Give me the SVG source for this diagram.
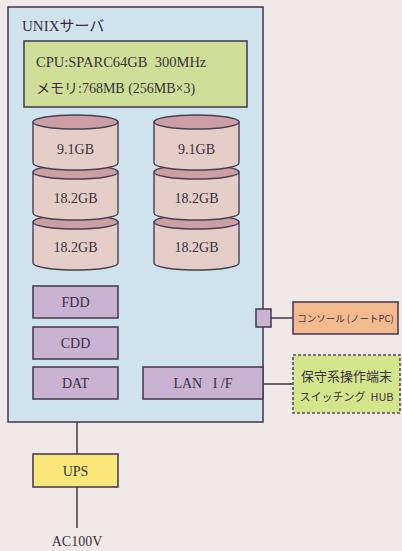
<svg xmlns="http://www.w3.org/2000/svg" width="402" height="551" viewBox="0 0 402 551">
<defs>
<style>
.t{font-family:"Liberation Serif","Noto Sans CJK JP",serif;fill:#3a3040;white-space:pre}
.j{font-family:"Noto Sans CJK JP","Liberation Serif",sans-serif;fill:#3a3040;white-space:pre}
.ln{stroke:#4a3f55;stroke-width:1.6;fill:none}
.box{stroke:#4a3f55;stroke-width:1.6}
.dev{fill:#c9b2d2;stroke:#4a3f55;stroke-width:1.6}
.dbody{fill:#e6cec8;stroke:#4a3f55;stroke-width:1.4}
.dtop{fill:#cb9fa4;stroke:#4a3f55;stroke-width:1.4}
</style>
</defs>
<rect width="402" height="551" fill="#f1e9e7"/>
<g id="connectors">
<line class="ln" x1="271" y1="318" x2="293" y2="318"/>
<line class="ln" x1="263" y1="384" x2="293" y2="384"/>
<line class="ln" x1="77" y1="422" x2="77" y2="454"/>
<line class="ln" x1="77" y1="487" x2="77" y2="528"/>
</g>
<g id="server">
<rect class="box" x="8" y="7" width="255" height="415" fill="#cfe3ef"/>
<text class="t" x="22" y="31" font-size="15">UNIXサーバ</text>
</g>
<g id="cpu">
<rect class="box" x="24" y="41" width="223" height="66" fill="#cfdf98"/>
<text class="t" x="36" y="67" font-size="14.5">CPU:SPARC64GB  300MHz</text>
<text class="t" x="36" y="93" font-size="14">メモリ:768MB (256MB×3)</text>
</g>
<g id="disks-left">
<path class="dbody" d="M33,222 V263 A42.5,7 0 0 0 118,263 V222 Z"/>
<ellipse class="dtop" cx="75.5" cy="222" rx="42.5" ry="7"/>
<path class="dbody" d="M33,172 V213 A42.5,7 0 0 0 118,213 V172 Z"/>
<ellipse class="dtop" cx="75.5" cy="172" rx="42.5" ry="7"/>
<path class="dbody" d="M33,122 V163 A42.5,7 0 0 0 118,163 V122 Z"/>
<ellipse class="dtop" cx="75.5" cy="122" rx="42.5" ry="7"/>
<text class="t" x="75.5" y="154" font-size="14" text-anchor="middle">9.1GB</text>
<text class="t" x="75.5" y="203" font-size="14" text-anchor="middle">18.2GB</text>
<text class="t" x="75.5" y="252" font-size="14" text-anchor="middle">18.2GB</text>
</g>
<g id="disks-right">
<path class="dbody" d="M154,222 V263 A42.5,7 0 0 0 239,263 V222 Z"/>
<ellipse class="dtop" cx="196.5" cy="222" rx="42.5" ry="7"/>
<path class="dbody" d="M154,172 V213 A42.5,7 0 0 0 239,213 V172 Z"/>
<ellipse class="dtop" cx="196.5" cy="172" rx="42.5" ry="7"/>
<path class="dbody" d="M154,122 V163 A42.5,7 0 0 0 239,163 V122 Z"/>
<ellipse class="dtop" cx="196.5" cy="122" rx="42.5" ry="7"/>
<text class="t" x="196.5" y="154" font-size="14" text-anchor="middle">9.1GB</text>
<text class="t" x="196.5" y="203" font-size="14" text-anchor="middle">18.2GB</text>
<text class="t" x="196.5" y="252" font-size="14" text-anchor="middle">18.2GB</text>
</g>
<g id="fdd">
<rect class="dev" x="33" y="286" width="85" height="32"/>
<text class="t" x="75.5" y="307" font-size="14" text-anchor="middle">FDD</text>
</g>
<g id="cdd">
<rect class="dev" x="33" y="327" width="85" height="32"/>
<text class="t" x="75.5" y="348" font-size="14" text-anchor="middle">CDD</text>
</g>
<g id="dat">
<rect class="dev" x="33" y="367" width="85" height="32"/>
<text class="t" x="75.5" y="388" font-size="14" text-anchor="middle">DAT</text>
</g>
<g id="lan">
<rect class="dev" x="143" y="367" width="120" height="32"/>
<text class="t" x="203" y="388" font-size="14" text-anchor="middle">LAN   I /F</text>
</g>
<g id="port">
<rect class="dev" x="256" y="309" width="15" height="18"/>
</g>
<g id="console">
<rect class="box" x="293" y="302" width="105" height="32" fill="#f4b98e"/>
<text class="j" x="345.5" y="321.5" font-size="9.5" text-anchor="middle">コンソール (ノートPC)</text>
</g>
<g id="hub">
<rect x="293" y="355" width="107" height="58" fill="#d5e58c" stroke="#5a4a6a" stroke-width="1.6" stroke-dasharray="3,2"/>
<text class="j" x="346.5" y="381" font-size="13" text-anchor="middle">保守系操作端末</text>
<text class="j" x="346.5" y="401" font-size="11" text-anchor="middle">スイッチング  HUB</text>
</g>
<g id="ups">
<rect class="box" x="33" y="454" width="85" height="33" fill="#f9e77a"/>
<text class="t" x="75.5" y="476" font-size="14" text-anchor="middle">UPS</text>
</g>
<g id="ac">
<text class="t" x="77" y="546" font-size="14" text-anchor="middle">AC100V</text>
</g>
</svg>
